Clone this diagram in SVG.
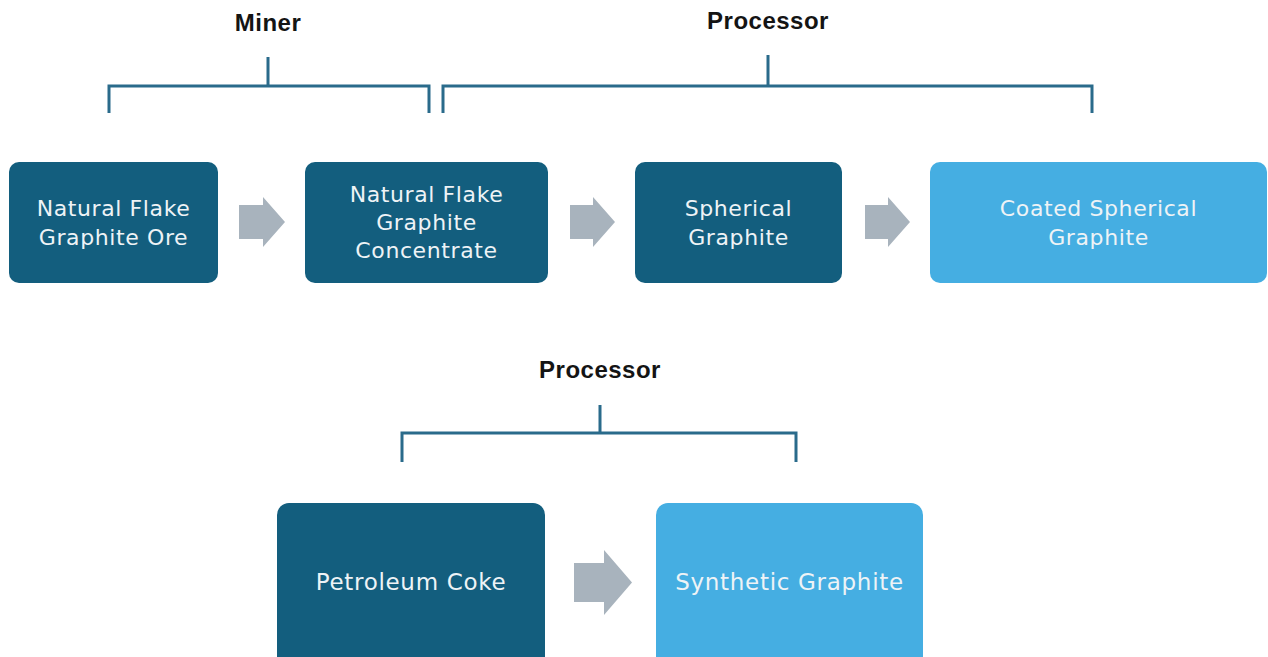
<svg xmlns="http://www.w3.org/2000/svg" width="1268" height="657" viewBox="0 0 1268 657">
  <defs>
    <style>
      .dark { fill: #135e7e; }
      .light { fill: #45aee2; }
      .step { fill: #a8b3bd; }
      .brace { fill: none; stroke: #2a6b8b; stroke-width: 3; stroke-linejoin: miter; }
      .role { font-family: "Liberation Sans", Arial, sans-serif; font-weight: bold; font-size: 24px; letter-spacing: 0.5px; fill: #141414; text-anchor: middle; }
      .label { font-family: "DejaVu Sans", sans-serif; font-size: 22px; letter-spacing: 0.6px; fill: #eef3f6; text-anchor: middle; }
      .label.big { font-size: 23px; letter-spacing: 0.7px; }
    </style>
  </defs>
  <rect width="1268" height="657" fill="#ffffff"/>

  <!-- role headings and brackets -->
  <g id="roles">
    <text class="role" x="268" y="31">Miner</text>
    <text class="role" x="768" y="29">Processor</text>
    <text class="role" x="600" y="378">Processor</text>
    <path class="brace" d="M268 57 V86 M109 113 V86 H429 V113"/>
    <path class="brace" d="M768 55 V86 M443 113 V86 H1092 V113"/>
    <path class="brace" d="M600 405 V433 M402 462 V433 H796 V462"/>
  </g>

  <!-- natural graphite chain -->
  <g id="ore">
    <rect class="dark" x="9" y="162" width="209" height="121" rx="10"/>
    <text class="label" x="113.5" y="216">Natural Flake</text>
    <text class="label" x="113.5" y="245">Graphite Ore</text>
  </g>
  <g id="concentrate">
    <rect class="dark" x="305" y="162" width="243" height="121" rx="10"/>
    <text class="label" x="426.5" y="202">Natural Flake</text>
    <text class="label" x="426.5" y="230">Graphite</text>
    <text class="label" x="426.5" y="258">Concentrate</text>
  </g>
  <g id="spherical">
    <rect class="dark" x="635" y="162" width="207" height="121" rx="10"/>
    <text class="label" x="738.5" y="216">Spherical</text>
    <text class="label" x="738.5" y="245">Graphite</text>
  </g>
  <g id="coated">
    <rect class="light" x="930" y="162" width="337" height="121" rx="10"/>
    <text class="label" x="1098.5" y="216">Coated Spherical</text>
    <text class="label" x="1098.5" y="245">Graphite</text>
  </g>

  <!-- synthetic graphite chain -->
  <g id="coke">
    <rect class="dark" x="277" y="503" width="268" height="170" rx="12"/>
    <text class="label big" x="411" y="590">Petroleum Coke</text>
  </g>
  <g id="synthetic">
    <rect class="light" x="656" y="503" width="267" height="170" rx="12"/>
    <text class="label big" x="789.5" y="590">Synthetic Graphite</text>
  </g>

  <!-- flow arrows -->
  <g id="connectors">
    <path class="step" d="M239 205 H263 V197 L285 222 L263 247 V239 H239 Z"/>
    <path class="step" d="M570 205 H593 V197 L615 222 L593 247 V239 H570 Z"/>
    <path class="step" d="M865 205 H888 V197 L910 222 L888 247 V239 H865 Z"/>
    <path class="step" d="M574 563 H604 V550 L632 582.5 L604 615 V602 H574 Z"/>
  </g>
</svg>
